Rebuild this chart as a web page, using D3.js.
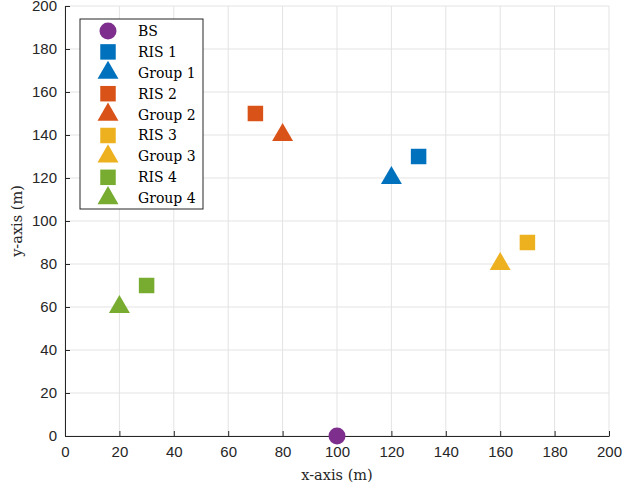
<!DOCTYPE html>
<html>
<head>
<meta charset="utf-8">
<script src="https://cdn.jsdelivr.net/npm/d3@7"></script>
<style>
  body { margin: 0; background: #fff; }
</style>
</head>
<body>
<div id="chart"></div>
<script>
// series names, positions, marker shapes, colours
var names   = ["BS", "RIS 1", "Group 1", "RIS 2", "Group 2", "RIS 3", "Group 3", "RIS 4", "Group 4"];
var xs      = [100, 130, 120, 70, 80, 170, 160, 30, 20];
var ys      = [0, 130, 120, 150, 140, 90, 80, 70, 60];
var shapes  = ["circle", "square", "triangle", "square", "triangle", "square", "triangle", "square", "triangle"];
var colors  = ["#7E2F8E", "#0072BD", "#0072BD", "#D95319", "#D95319", "#EDB120", "#EDB120", "#77AC30", "#77AC30"];
var ticks   = [0, 20, 40, 60, 80, 100, 120, 140, 160, 180, 200];

var width = 623, height = 486;
var margin = {top: 6, right: 14, bottom: 50, left: 65};
var w = width - margin.left - margin.right;
var h = height - margin.top - margin.bottom;

var svg = d3.select("#chart").append("svg").attr("width", width).attr("height", height);
var g = svg.append("g").attr("transform", "translate(" + margin.left + "," + margin.top + ")");

var x = d3.scaleLinear().domain([0, 200]).range([0, w]);
var y = d3.scaleLinear().domain([0, 200]).range([h, 0]);

var symType = {circle: d3.symbolCircle, square: d3.symbolSquare, triangle: d3.symbolTriangle};
var symSize = {circle: 227, square: 240, triangle: 190};
var sym = function(s) { return d3.symbol().type(symType[s]).size(symSize[s])(); };

// grid
g.append("g").selectAll("line").data(ticks).enter().append("line")
  .attr("x1", function(d) { return x(d); }).attr("x2", function(d) { return x(d); })
  .attr("y1", 0).attr("y2", h)
  .attr("stroke", "#e3e3e3").attr("stroke-width", 1);
g.append("g").selectAll("line").data(ticks).enter().append("line")
  .attr("y1", function(d) { return y(d); }).attr("y2", function(d) { return y(d); })
  .attr("x1", 0).attr("x2", w)
  .attr("stroke", "#e3e3e3").attr("stroke-width", 1);

// axes
var xAxis = g.append("g").attr("transform", "translate(0," + h + ")")
  .call(d3.axisBottom(x).tickValues(ticks).tickSizeInner(-5).tickSizeOuter(0).tickPadding(10));
var yAxis = g.append("g")
  .call(d3.axisLeft(y).tickValues(ticks).tickSizeInner(-5).tickSizeOuter(0).tickPadding(8));
[xAxis, yAxis].forEach(function(a) {
  a.select(".domain").attr("stroke", "#262626");
  a.selectAll(".tick line").attr("stroke", "#262626");
  a.selectAll(".tick text").attr("fill", "#262626")
    .style("font-family", "Liberation Sans, Arial, sans-serif").style("font-size", "15px");
});

// axis titles
svg.append("text")
  .attr("x", margin.left + w / 2).attr("y", 480)
  .attr("text-anchor", "middle")
  .style("font-family", "DejaVu Serif, serif").style("font-size", "14.5px").attr("fill", "#262626")
  .text("x-axis (m)");
svg.append("text")
  .attr("transform", "translate(22," + (margin.top + h / 2) + ") rotate(-90)")
  .attr("text-anchor", "middle")
  .style("font-family", "DejaVu Serif, serif").style("font-size", "14.5px").attr("fill", "#262626")
  .text("y-axis (m)");

// markers
g.selectAll(".pt").data(names).enter().append("path")
  .attr("class", "pt")
  .attr("transform", function(d, i) { return "translate(" + x(xs[i]) + "," + y(ys[i]) + ")"; })
  .attr("d", function(d, i) { return sym(shapes[i]); })
  .attr("fill", function(d, i) { return colors[i]; });

// legend
var leg = svg.append("g").attr("transform", "translate(80,19)");
leg.append("rect").attr("width", 123).attr("height", 190)
  .attr("fill", "#fff").attr("stroke", "#262626").attr("stroke-width", 1);
var items = leg.selectAll(".item").data(names).enter().append("g")
  .attr("transform", function(d, i) { return "translate(0," + (12 + i * 20.9) + ")"; });
items.append("path")
  .attr("transform", "translate(28,0)")
  .attr("d", function(d, i) { return sym(shapes[i]); })
  .attr("fill", function(d, i) { return colors[i]; });
items.append("text")
  .attr("x", 58).attr("y", 0).attr("dy", "0.35em")
  .style("font-family", "DejaVu Serif, serif").style("font-size", "14px").attr("fill", "#000")
  .text(function(d) { return d; });
</script>
</body>
</html>
